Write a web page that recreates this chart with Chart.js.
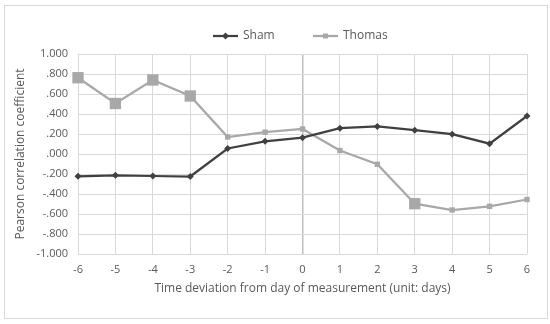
<!DOCTYPE html>
<html>
<head>
<meta charset="utf-8">
<script src="https://cdn.jsdelivr.net/npm/chart.js@4/dist/chart.umd.min.js"></script>
<style>
  html, body { margin: 0; padding: 0; background: #fff; }
  #wrap { width: 550px; height: 324px; }
</style>
</head>
<body>
<div id="wrap"><canvas id="myChart" width="550" height="324"></canvas></div>
<script>
'use strict';

var days = ['-6', '-5', '-4', '-3', '-2', '-1', '0', '1', '2', '3', '4', '5', '6'];
var sham = [-0.223, -0.213, -0.22, -0.225, 0.055, 0.127, 0.163, 0.258, 0.275, 0.238, 0.198, 0.103, 0.38];
var thomas = [0.763, 0.505, 0.74, 0.58, 0.17, 0.218, 0.25, 0.035, -0.103, -0.497, -0.56, -0.523, -0.455];
// big squares mark the significant days
var thomasSignificant = [true, true, true, true, false, false, false, false, false, true, false, false, false];
var yTicks = [-1, -0.8, -0.6, -0.4, -0.2, 0, 0.2, 0.4, 0.6, 0.8, 1];

var shamColor = '#404040';
var thomasColor = '#a8a8a8';
var textColor = '#595959';
var fontName = '"Open Sans", sans-serif';

function fmt(v) {
  var s = Math.abs(v).toFixed(3);
  if (s.charAt(0) === '0') s = s.substring(1);
  return (v < -0.0005 ? '-' : '') + s;
}

var frame = {
  id: 'frame',
  beforeDraw: function(chart) {
    var c = chart.ctx;
    c.save();
    c.fillStyle = '#fff';
    c.fillRect(0, 0, chart.width, chart.height);
    c.strokeStyle = '#d9d9d9';
    c.lineWidth = 1;
    c.strokeRect(4.5, 5.5, 543, 313);
    c.restore();
  },
  afterDraw: function(chart) {
    var c = chart.ctx;
    var items = [
      { label: 'Sham', color: shamColor, style: 'rectRot', x: 213 },
      { label: 'Thomas', color: thomasColor, style: 'rect', x: 313 }
    ];
    var y = 36;
    c.save();
    items.forEach(function(it) {
      c.strokeStyle = it.color;
      c.lineWidth = 2.25;
      c.beginPath();
      c.moveTo(it.x, y);
      c.lineTo(it.x + 25, y);
      c.stroke();
      c.fillStyle = it.color;
      Chart.helpers.drawPoint(c, { pointStyle: it.style, radius: 3.5, borderWidth: 0 }, it.x + 12.5, y);
      c.fillStyle = textColor;
      c.font = '12px ' + fontName;
      c.textBaseline = 'middle';
      c.textAlign = 'left';
      c.fillText(it.label, it.x + 30, y);
    });
    c.restore();
  }
};

var ctx = document.getElementById('myChart');
new Chart(ctx, {
  type: 'line',
  data: {
    labels: days,
    datasets: [{
      label: 'Sham',
      data: sham,
      borderColor: shamColor,
      backgroundColor: shamColor,
      borderWidth: 2.25,
      pointStyle: 'rectRot',
      pointRadius: 3.5,
      pointBorderWidth: 0,
      tension: 0
    }, {
      label: 'Thomas',
      data: thomas,
      borderColor: thomasColor,
      backgroundColor: thomasColor,
      borderWidth: 2.25,
      pointStyle: 'rect',
      pointRadius: thomasSignificant.map(function(s) { return s ? 8 : 3.8; }),
      pointBorderWidth: 0,
      tension: 0
    }]
  },
  options: {
    responsive: false,
    animation: false,
    layout: { padding: { left: 12, right: 23, top: 54, bottom: 24 } },
    plugins: {
      legend: { display: false },
      tooltip: { enabled: false }
    },
    scales: {
      x: {
        offset: false,
        grid: {
          drawTicks: false,
          color: function(c) { return c.index === 6 ? '#bfbfbf' : '#d9d9d9'; },
          lineWidth: function(c) { return c.index === 6 ? 1.5 : 1; }
        },
        border: { display: false },
        ticks: { color: textColor, font: { family: fontName, size: 11 }, padding: 9, maxRotation: 0 },
        title: {
          display: true,
          text: 'Time deviation from day of measurement (unit: days)',
          color: textColor,
          font: { family: fontName, size: 12 },
          padding: { top: 4, bottom: 4 }
        },
        afterFit: function(s) { s.height = 46; }
      },
      y: {
        min: -1,
        max: 1,
        afterBuildTicks: function(s) { s.ticks = yTicks.map(function(v) { return { value: v }; }); },
        grid: { drawTicks: false, color: '#d9d9d9' },
        border: { display: false },
        ticks: {
          color: textColor,
          font: { family: fontName, size: 11 },
          padding: 10,
          callback: function(v) { return fmt(v); }
        },
        title: {
          display: true,
          text: 'Pearson correlation coefficient',
          color: textColor,
          font: { family: fontName, size: 12 },
          padding: { top: 1, bottom: 0 }
        },
        afterFit: function(s) { s.width = 66; }
      }
    }
  },
  plugins: [frame]
});
</script>
</body>
</html>
